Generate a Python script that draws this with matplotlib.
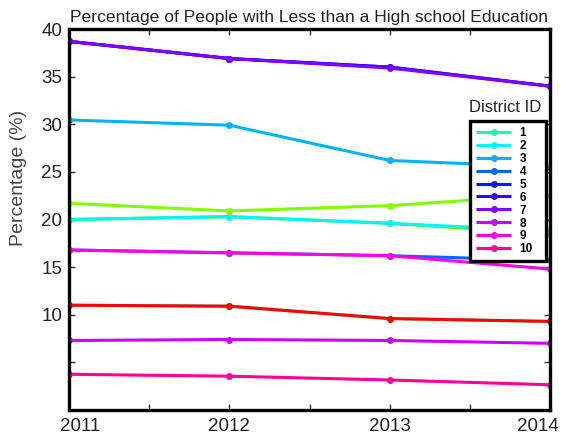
import matplotlib
matplotlib.use("Agg")
import matplotlib.pyplot as plt
import matplotlib.transforms as mtransforms

plt.rcParams['font.family'] = ['Liberation Sans', 'DejaVu Sans']

years = [2011, 2012, 2013, 2014]

# Share (%) of adults without a high school diploma, per district and year.
# Series are listed in drawing order: later ones sit on top.
series_ids = ["5", "6", "7", "3", "g", "2", "c", "4", "9", "1", "r", "8", "10"]
series_colors = ["#001aff", "#3300ff", "#8000ff", "#00b3ff", "#4dff00", "#00f5ff",
                 "#80ff00", "#0066ff", "#ff00e6", "#1affa3", "#ff0000", "#cc00ff",
                 "#ff0099"]
series_values = [
    [38.7, 36.9, 36.0, 34.0],
    [38.7, 36.9, 36.0, 34.0],
    [38.7, 36.9, 35.9, 34.0],
    [30.45, 29.9, 26.2, 25.5],
    [20.0, 20.3, 19.6, 18.5],
    [20.0, 20.3, 19.6, 18.8],
    [21.7, 20.9, 21.45, 22.6],
    [16.8, 16.5, 16.2, 15.7],
    [16.8, 16.5, 16.2, 14.8],
    [11.0, 10.9, 9.6, 9.3],
    [11.0, 10.9, 9.6, 9.3],
    [7.3, 7.4, 7.3, 7.0],
    [3.75, 3.55, 3.15, 2.65],
]
legend_ids = ["1", "2", "3", "4", "5", "6", "7", "8", "9", "10"]

y_ticks = [5, 10, 15, 20, 25, 30, 35, 40]
y_tick_labels = ["", "10", "15", "20", "25", "30", "35", "40"]
x_ticks = [2011, 2012, 2013, 2014]
x_tick_labels = ["2011", "2012", "2013", "2014"]

fig = plt.figure(figsize=(5.71, 4.42), dpi=100)
ax = fig.add_axes([69 / 571, 1 - 410 / 442, (550 - 69) / 571, (410 - 29) / 442])

handles = {}
for sid, col, vals in zip(series_ids, series_colors, series_values):
    ln, = ax.plot(years, vals, color=col, lw=2.2, marker='o', ms=5,
                  markeredgewidth=0, solid_capstyle='butt')
    handles[sid] = ln

ax.set_xlim(2011, 2014)
ax.set_ylim(0, 40)
ax.set_xticks(x_ticks)
ax.set_xticklabels(x_tick_labels)
ax.set_xticks([2011.5, 2012.5, 2013.5], minor=True)
ax.set_yticks(y_ticks)
ax.set_yticklabels(y_tick_labels)

ax.tick_params(axis='both', which='both', direction='in', length=4.5, width=1,
               top=True, right=True, labelsize=13.5, labelcolor='#222222',
               color='#333333')
ax.tick_params(axis='x', pad=6)
ax.tick_params(axis='y', pad=5)

for sp in ax.spines.values():
    sp.set_linewidth(2.4)
    sp.set_color('black')

# keep the outer year labels inside the frame
xl = ax.get_xticklabels()
xl[0].set_transform(xl[0].get_transform() +
                    mtransforms.ScaledTranslation(0.11, 0, fig.dpi_scale_trans))
xl[-1].set_transform(xl[-1].get_transform() +
                     mtransforms.ScaledTranslation(-0.12, 0, fig.dpi_scale_trans))

ax.set_title("Percentage of People with Less than a High school Education",
             fontsize=12.6, color='#222222', pad=5)
ax.set_ylabel("Percentage (%)", fontsize=14, color='#444444')
ax.yaxis.set_label_coords((27 - 69) / 481, (410 - 178) / 381)

lx0 = (470 - 69) / 481
ly1 = (410 - 121) / 381
lw = (546 - 470) / 481
leg = ax.legend([handles[i] for i in legend_ids], legend_ids,
                loc='upper left', bbox_to_anchor=(lx0, ly1 - 0.3, lw, 0.3),
                mode='expand', borderaxespad=0, frameon=True, fancybox=False,
                framealpha=1, edgecolor='black',
                prop={'weight': 'bold', 'size': 8.5},
                handlelength=3.0, handletextpad=0.7, labelspacing=0.08,
                borderpad=0.5)
leg.get_frame().set_linewidth(2.4)

ax.text((505 - 69) / 481, (410 - 108) / 381, "District ID", transform=ax.transAxes,
        ha='center', va='center', fontsize=12, color='#222222')

fig.savefig("out.png", dpi=100)
